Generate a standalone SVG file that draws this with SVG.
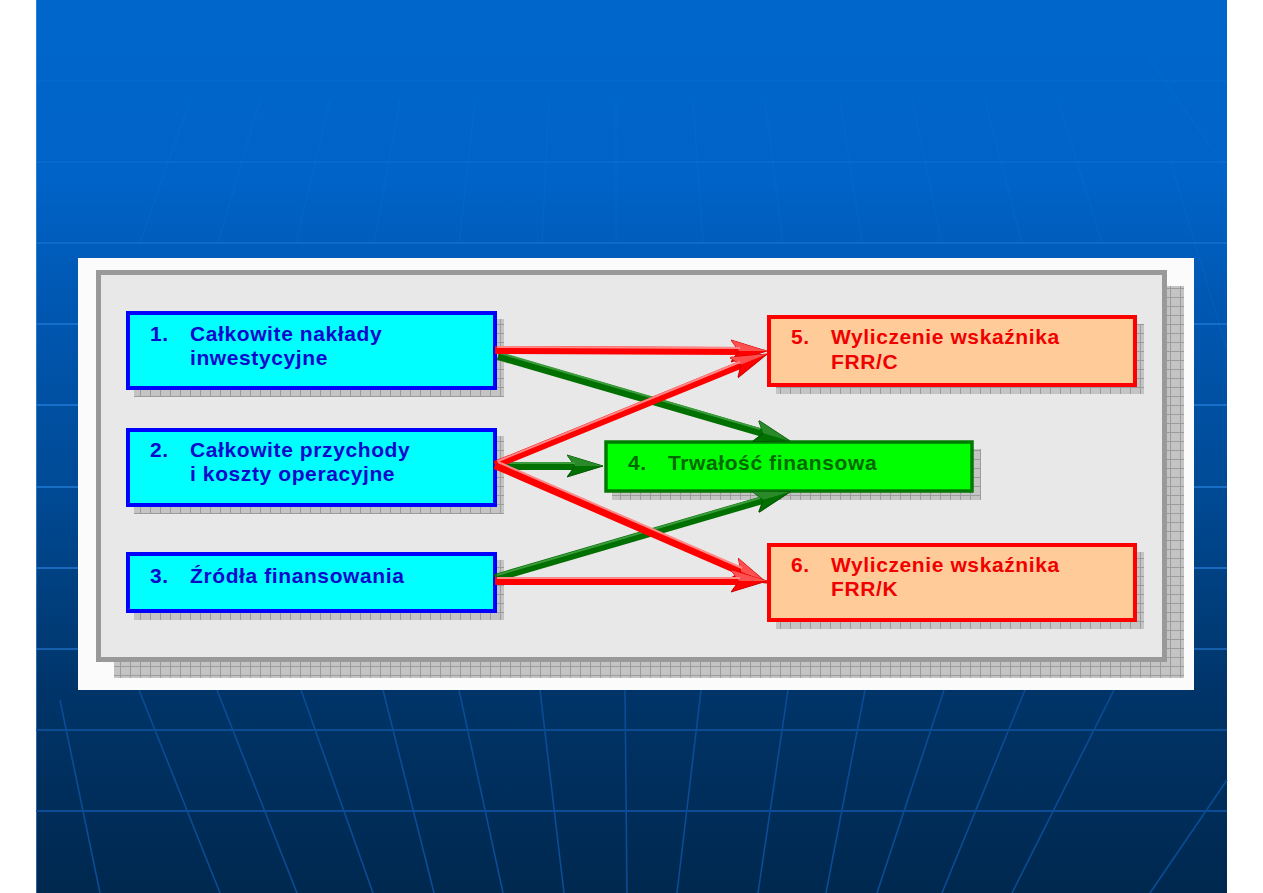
<svg xmlns="http://www.w3.org/2000/svg" width="1263" height="893" viewBox="0 0 1263 893">
<defs>
<linearGradient id="bg" x1="0" y1="0" x2="0" y2="1">
<stop offset="0" stop-color="#0066CC"/>
<stop offset="0.2" stop-color="#0063C7"/>
<stop offset="0.33" stop-color="#0058B3"/>
<stop offset="0.55" stop-color="#004A95"/>
<stop offset="0.78" stop-color="#003468"/>
<stop offset="1" stop-color="#00284F"/>
</linearGradient>
<pattern id="grid" width="10" height="9" patternUnits="userSpaceOnUse">
<rect width="10" height="9" fill="#c4c4c4"/>
<path d="M0,0.5 H10 M0.5,0 V9" stroke="#9c9c9c" stroke-width="1" fill="none"/>
</pattern>
<marker id="headR" viewBox="0 -12 36 24" refX="12" refY="0" markerWidth="36" markerHeight="24" markerUnits="userSpaceOnUse" orient="auto">
<path d="M36,0 L0,-11 L8,0 L0,11 Z" fill="#FF0000" stroke="#D00000" stroke-width="1"/>
<path d="M36,0 L0,-11 L8,0 Z" fill="#FF5050"/>
</marker>
<marker id="headG" viewBox="0 -12 36 24" refX="12" refY="0" markerWidth="36" markerHeight="24" markerUnits="userSpaceOnUse" orient="auto">
<path d="M36,0 L0,-11 L8,0 L0,11 Z" fill="#007000" stroke="#005500" stroke-width="1"/>
<path d="M36,0 L0,-11 L8,0 Z" fill="#2A8A2A"/>
</marker>
<style>
.t{font-family:"Liberation Sans",Arial,sans-serif;font-weight:bold;font-size:21px;letter-spacing:0.6px}
.tb{fill:#0A0ACC}
.tr{fill:#F00000}
.tg{fill:#006A00}
.nb{fill:#00FFFF;stroke:#0000FF;stroke-width:4}
.nr{fill:#FFCC99;stroke:#FF0000;stroke-width:4}
.ng{fill:#00FF00;stroke:#007A00;stroke-width:3.5}
.sh{fill:url(#grid)}
.red{stroke:#FF0000;stroke-width:8;fill:none;marker-end:url(#headR)}
.grn{stroke:#007000;stroke-width:8;fill:none;marker-end:url(#headG)}
.hr{stroke:#FF8888;stroke-width:2;fill:none}
.hg{stroke:#3C9C3C;stroke-width:2;fill:none}
.hline{stroke:#2A86E6;stroke-width:2}
.mer{stroke:#0B4C94;stroke-width:1.6}
</style>
</defs>
<rect x="0" y="0" width="1263" height="893" fill="#FFFFFF"/>
<rect x="36" y="0" width="1191" height="893" fill="url(#bg)"/>
<line x1="36.5" y1="0" x2="36.5" y2="893" stroke="#4A90D8" stroke-width="1" opacity="0.6"/>
<g id="background-lines">
<line class="hline" x1="36" y1="81" x2="1227" y2="81" opacity="0.1"/>
<line class="hline" x1="36" y1="162" x2="1227" y2="162" opacity="0.18"/>
<line class="hline" x1="36" y1="243" x2="1227" y2="243" opacity="0.35"/>
<line class="hline" x1="36" y1="324" x2="1227" y2="324" opacity="0.5"/>
<line class="hline" x1="36" y1="405" x2="1227" y2="405" opacity="0.6"/>
<line class="hline" x1="36" y1="487" x2="1227" y2="487" opacity="0.6"/>
<line class="hline" x1="36" y1="568" x2="1227" y2="568" opacity="0.6"/>
<line class="hline" x1="36" y1="649" x2="1227" y2="649" opacity="0.5"/>
<line x1="36" y1="730" x2="1227" y2="730" stroke="#0B4C94" stroke-width="2"/>
<line x1="36" y1="811" x2="1227" y2="811" stroke="#0B4C94" stroke-width="2"/>
<g opacity="0.12" stroke="#2A86E6" stroke-width="1.2">
<line x1="475" y1="100" x2="459" y2="243"/>
<line x1="549" y1="100" x2="542" y2="243"/>
<line x1="616" y1="100" x2="616" y2="243"/>
<line x1="693" y1="100" x2="703" y2="243"/>
<line x1="765" y1="100" x2="783" y2="243"/>
<line x1="400" y1="100" x2="374" y2="243"/>
<line x1="330" y1="100" x2="296" y2="243"/>
<line x1="260" y1="100" x2="218" y2="243"/>
<line x1="190" y1="100" x2="140" y2="243"/>
<line x1="840" y1="100" x2="862" y2="243"/>
<line x1="912" y1="100" x2="942" y2="243"/>
<line x1="985" y1="100" x2="1022" y2="243"/>
<line x1="1058" y1="100" x2="1102" y2="243"/>
<line x1="1150" y1="60" x2="1227" y2="170"/>
<line x1="1170" y1="160" x2="1227" y2="350"/>
</g>
<g class="mer">
<line x1="139" y1="690" x2="220" y2="893"/>
<line x1="217" y1="690" x2="297" y2="893"/>
<line x1="301" y1="690" x2="373" y2="893"/>
<line x1="383" y1="690" x2="434" y2="893"/>
<line x1="459" y1="690" x2="503" y2="893"/>
<line x1="540" y1="690" x2="564" y2="893"/>
<line x1="625" y1="690" x2="627" y2="893"/>
<line x1="701" y1="690" x2="677" y2="893"/>
<line x1="788" y1="690" x2="758" y2="893"/>
<line x1="865" y1="690" x2="826" y2="893"/>
<line x1="944" y1="690" x2="877" y2="893"/>
<line x1="1025" y1="690" x2="942" y2="893"/>
<line x1="1114" y1="690" x2="1012" y2="893"/>
<line x1="60" y1="700" x2="100" y2="893"/>
<line x1="1227" y1="780" x2="1150" y2="893"/>
</g>
</g>
<g id="panel">
<rect x="78" y="258" width="1116" height="432" fill="#FBFBFB"/>
<rect x="114" y="286" width="1070" height="392" class="sh"/>
<rect x="98.5" y="272.5" width="1066" height="387" fill="#E8E8E8" stroke="#999999" stroke-width="5"/>
</g>
<g id="node1">
<rect x="134" y="319" width="370" height="78" class="sh"/>
<rect x="128" y="313" width="367" height="75" class="nb"/>
<text class="t tb" x="150" y="341">1.</text>
<text class="t tb" x="190" y="341">Całkowite nakłady</text>
<text class="t tb" x="190" y="365">inwestycyjne</text>
</g>
<g id="node2">
<rect x="134" y="436" width="370" height="78" class="sh"/>
<rect x="128" y="430" width="367" height="75" class="nb"/>
<text class="t tb" x="150" y="457">2.</text>
<text class="t tb" x="190" y="457">Całkowite przychody</text>
<text class="t tb" x="190" y="481">i koszty operacyjne</text>
</g>
<g id="node3">
<rect x="134" y="560" width="370" height="60" class="sh"/>
<rect x="128" y="554" width="367" height="57" class="nb"/>
<text class="t tb" x="150" y="583">3.</text>
<text class="t tb" x="190" y="583">Źródła finansowania</text>
</g>
<g id="node5">
<rect x="776" y="324" width="368" height="70" class="sh"/>
<rect x="769" y="317" width="366" height="68" class="nr"/>
<text class="t tr" x="791" y="344">5.</text>
<text class="t tr" x="831" y="344">Wyliczenie wskaźnika</text>
<text class="t tr" x="831" y="369">FRR/C</text>
</g>
<g id="node6">
<rect x="776" y="552" width="368" height="77" class="sh"/>
<rect x="769" y="545" width="366" height="75" class="nr"/>
<text class="t tr" x="791" y="572">6.</text>
<text class="t tr" x="831" y="572">Wyliczenie wskaźnika</text>
<text class="t tr" x="831" y="596">FRR/K</text>
</g>
<g id="node4">
<rect x="612" y="449" width="369" height="51" class="sh"/>
<rect x="606" y="442" width="366" height="49" class="ng"/>
<text class="t tg" x="628" y="470">4.</text>
<text class="t tg" x="668" y="470">Trwałość finansowa</text>
</g>
<g id="connectors">
<path class="grn" d="M498,356 L767,434.3"/>
<path class="hg" d="M500,353 L760,429"/>
<path class="grn" d="M495,466 L579,466"/>
<path class="hg" d="M497,463 L575,463"/>
<path class="grn" d="M495,578 L767,498.7"/>
<path class="hg" d="M497,575 L760,498"/>
<path class="red" d="M495,350 L743,351"/>
<path class="hr" d="M497,347 L740,348"/>
<path class="red" d="M495,465 L744.8,363.1"/>
<path class="hr" d="M497,461.5 L740,362"/>
<path class="red" d="M495,465 L745,573.4"/>
<path class="hr" d="M498,462 L742,568"/>
<path class="red" d="M495,581 L743,581"/>
<path class="hr" d="M497,578 L740,578"/>
</g>
</svg>
